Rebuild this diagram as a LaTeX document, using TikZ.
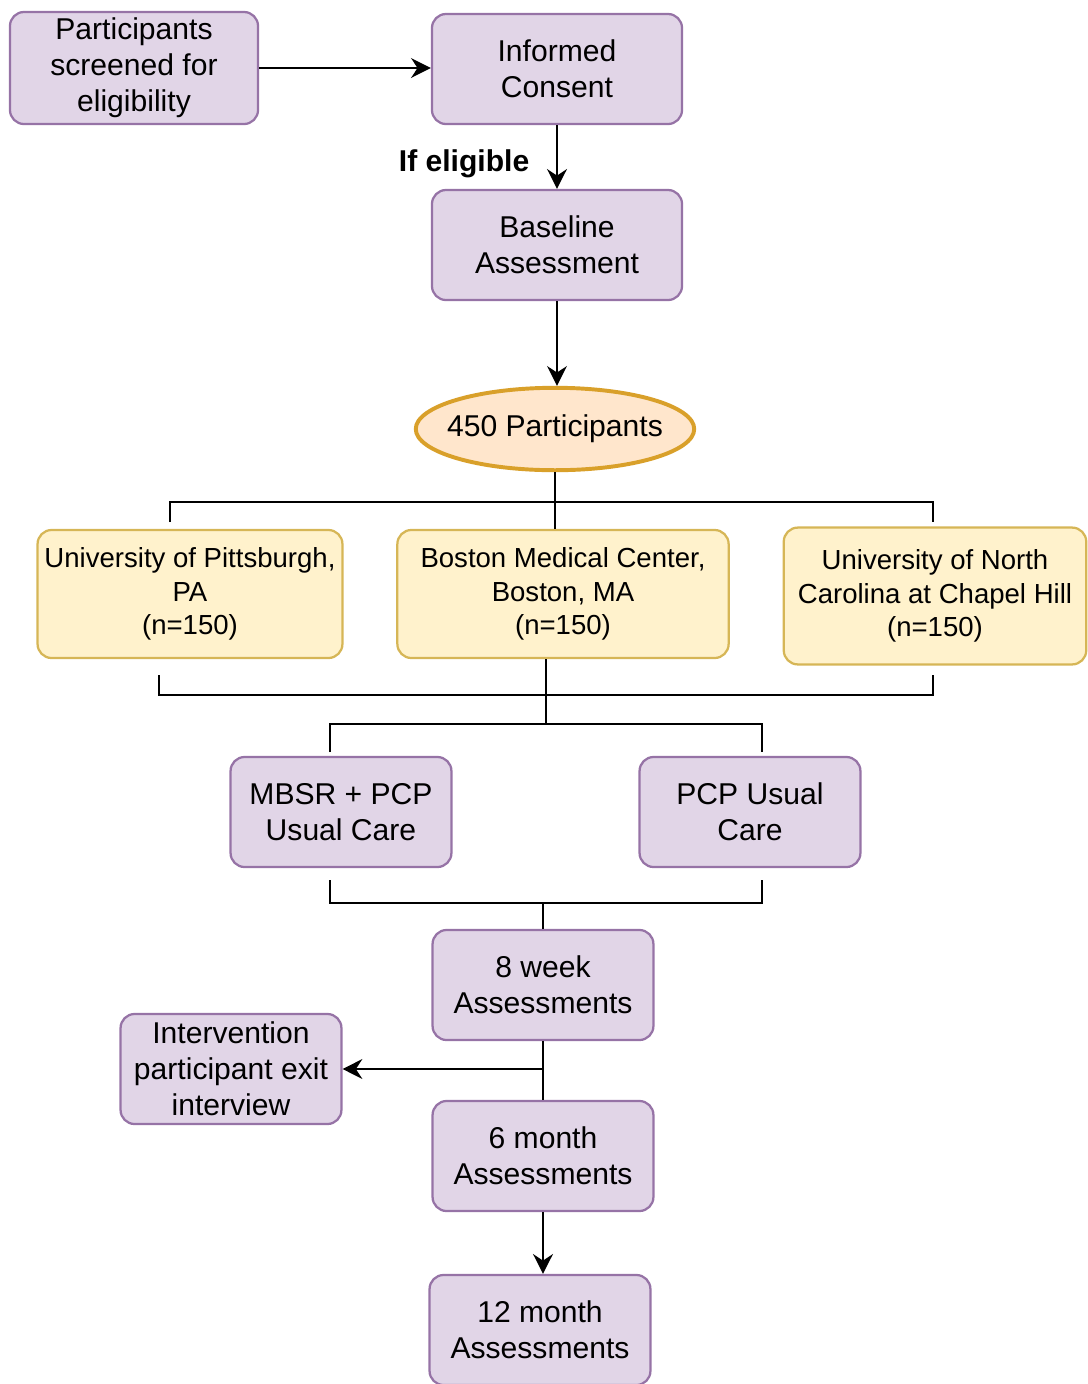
\documentclass[tikz,border=0pt]{standalone}
\usepackage{fontspec}
\setmainfont{Liberation Sans}
\usetikzlibrary{arrows.meta,shapes.geometric}

\definecolor{boxfill}{HTML}{E1D5E7}
\definecolor{boxline}{HTML}{9673A6}
\definecolor{sitefill}{HTML}{FFF2CC}
\definecolor{siteline}{HTML}{D6B656}
\definecolor{ovalfill}{HTML}{FFE6CC}
\definecolor{ovalline}{HTML}{D9A02A}

\tikzset{
  box/.style = {draw=boxline, fill=boxfill, rounded corners=5pt, line width=0.8pt,
    align=center, inner sep=1pt, font=\fontsize{10.7}{12.8}\selectfont,
    minimum width=2.76cm, minimum height=1.375cm},
  site/.style = {box, draw=siteline, fill=sitefill, font=\fontsize{9.8}{11.9}\selectfont,
    minimum height=1.6cm},
  oval/.style = {ellipse, draw=ovalline, fill=ovalfill, line width=1.4pt,
    minimum width=3.48cm, minimum height=1.03cm, inner xsep=-3.5pt, inner ysep=0pt,
    font=\fontsize{10.7}{12.8}\selectfont},
  link/.style = {line width=1pt},
  >={Stealth[length=7pt,width=7pt]}
}

\begin{document}
\begin{tikzpicture}[x=0.0125cm, y=-0.0125cm]
  \useasboundingbox (0,0) rectangle (1088,1384);

  \node[box, minimum width=3.1cm, minimum height=1.4cm] at (134,68) (SC) {Participants\\screened for\\eligibility};
  \node[box, minimum width=3.125cm] at (557,69) (IC) {Informed\\Consent};
  \node[box, minimum width=3.125cm] at (557,245) (BA) {Baseline\\Assessment};
  \node[oval] at (555,429) (P) {450 Participants};

  \node[site, minimum width=3.81cm] at (190,594) (UP) {University of Pittsburgh,\\PA\\(n=150)};
  \node[site, minimum width=4.14cm] at (563,594) (BMC) {Boston Medical Center,\\Boston, MA\\(n=150)};
  \node[site, minimum width=3.78cm, minimum height=1.71cm] at (935,596) (UNC) {University of North\\Carolina at Chapel Hill\\(n=150)};

  \node[box] at (341,812) (MB) {MBSR + PCP\\Usual Care};
  \node[box] at (750,812) (UC) {PCP Usual\\Care};

  \node[box] at (543,985) (W8) {8 week\\Assessments};
  \node[box] at (231,1069) (EX) {Intervention\\participant exit\\interview};
  \node[box] at (543,1156) (M6) {6 month\\Assessments};
  \node[box] at (540,1330) (M12) {12 month\\Assessments};

  \coordinate (a1) at (170,522);
  \coordinate (a2) at (933,522);
  \coordinate (b1) at (159,675);
  \coordinate (b2) at (933,675);
  \coordinate (m) at (546,724);
  \coordinate (d1) at (330,752);
  \coordinate (d2) at (762,752);
  \coordinate (e1) at (330,880);
  \coordinate (e2) at (762,880);

  \draw[link, ->] (SC) -- (SC -| IC.west);
  \draw[link, ->] (IC) -- node[pos=0.6, left=6pt, font=\fontsize{10.7}{12.8}\selectfont\bfseries] {If eligible} (BA);
  \draw[link, ->] (BA.south) -- (BA.south |- P.north);

  % sites
  \draw[link] (P.south) -- (P.south |- BMC.north);
  \draw[link] (a1) -- ++(0,-20) -| (a2);
  \draw[link] (b1) -- ++(0,20) -| (b2);
  \draw[link] (m |- BMC.south) -- (m);

  % arms
  \draw[link] (d1) |- (m) -| (d2);
  \draw[link] (e1) -- ++(0,23) -| (e2);
  \draw[link] (W8.north) -- ++(0,-27);

  \draw[link] (W8) -- (M6);
  \draw[link, ->] (W8.south |- EX) -- (EX);
  \draw[link, ->] (M6.south) -- (M6.south |- M12.north);
\end{tikzpicture}
\end{document}
